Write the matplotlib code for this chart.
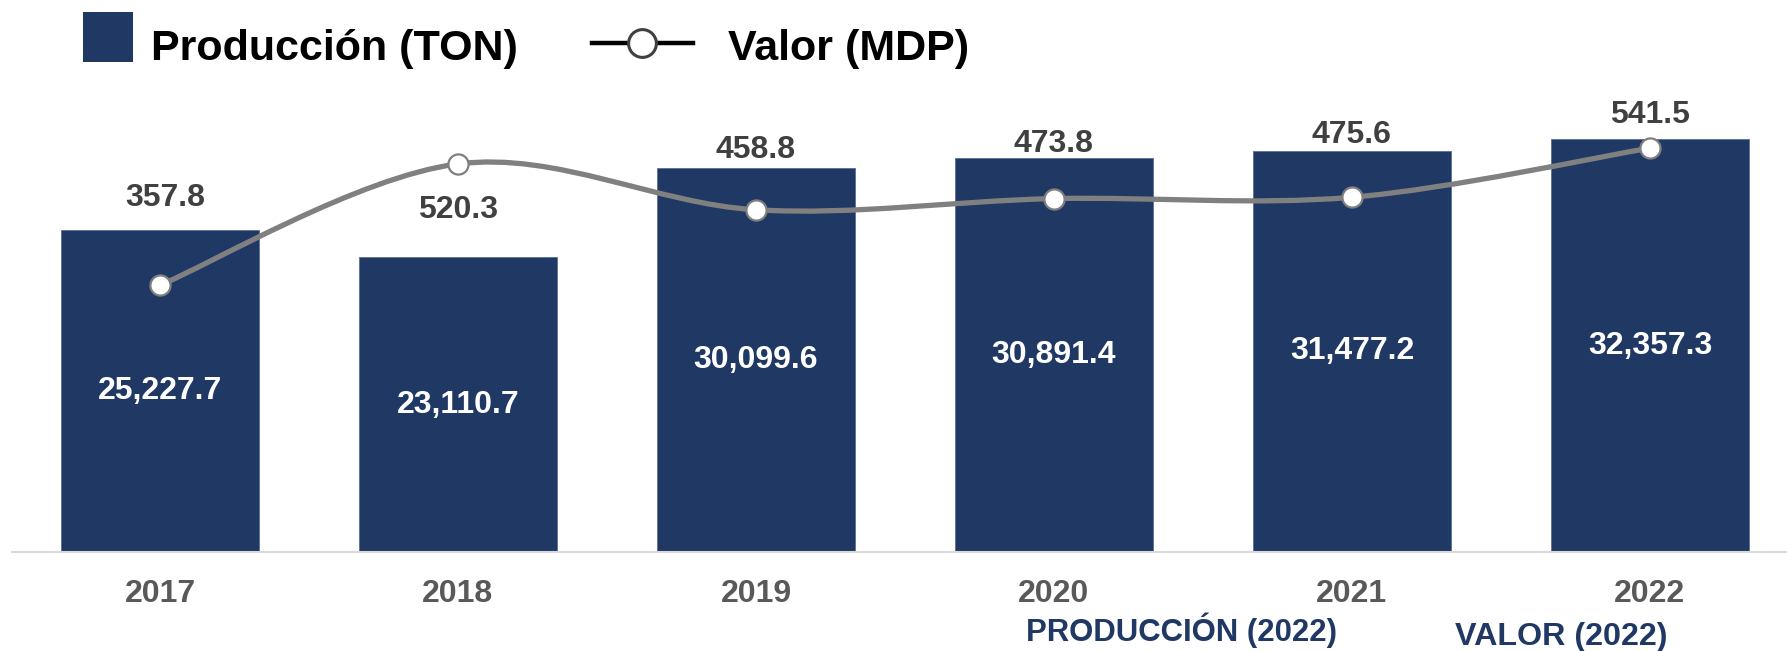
import numpy as np
import matplotlib
matplotlib.use("Agg")
import matplotlib.pyplot as plt
from matplotlib.path import Path
from matplotlib.patches import PathPatch, Rectangle
from matplotlib.lines import Line2D
from matplotlib.legend_handler import HandlerBase


YEARS = ["2017", "2018", "2019", "2020", "2021", "2022"]
PRODUCCION = [25227.7, 23110.7, 30099.6, 30891.4, 31477.2, 32357.3]
VALOR = [357.8, 520.3, 458.8, 473.8, 475.6, 541.5]

NAVY = "#203864"
LINE_GRAY = "#808080"
TEXT_GRAY = "#404040"
TICK_GRAY = "#595959"

W, H = 1787, 651

plt.rcParams["font.family"] = ["Liberation Sans", "DejaVu Sans"]
plt.rcParams["font.weight"] = "bold"


class SquareHandler(HandlerBase):
    def create_artists(self, legend, orig_handle, xdescent, ydescent,
                       width, height, fontsize, trans):
        side = 36
        r = Rectangle((width - side - xdescent, (height - side) / 2 - ydescent + 6),
                      side, side, facecolor=NAVY, edgecolor="none", transform=trans)
        return [r]


class LineHandler(HandlerBase):
    def create_artists(self, legend, orig_handle, xdescent, ydescent,
                       width, height, fontsize, trans):
        end = width - 12
        y = height / 2 - ydescent + 1.5
        ln = Line2D([-xdescent, end - xdescent], [y, y], color="black", lw=3.2,
                    transform=trans)
        mk = Line2D([end / 2 - xdescent], [y], linestyle="none", marker="o",
                    ms=20, mfc="white", mec="#404040", mew=2.2, transform=trans)
        return [ln, mk]


def smooth_path(xs, ys):
    pts = np.column_stack([xs, ys]).astype(float)
    n = len(pts)
    verts = [pts[0]]
    codes = [Path.MOVETO]
    for i in range(n - 1):
        p0 = pts[max(i - 1, 0)]
        p1 = pts[i]
        p2 = pts[i + 1]
        p3 = pts[min(i + 2, n - 1)]
        verts += [p1 + (p2 - p0) / 6, p2 - (p3 - p1) / 6, p2]
        codes += [Path.CURVE4] * 3
    return Path(verts, codes)


fig = plt.figure(figsize=(W / 100, H / 100), dpi=100)
ax = fig.add_axes([12 / W, 99 / H, (W - 12) / W, 452 / H])
x = np.arange(len(YEARS))

bars = ax.bar(x, PRODUCCION, width=0.667, color=NAVY, edgecolor="#5b6f94",
              linewidth=0.6, zorder=2)
ax.bar_label(bars, labels=[f"{v:,.1f}" for v in PRODUCCION], label_type="center",
             color="white", fontsize=23, fontweight="bold")

ax.set_xlim(-0.4966, 5.46)
ax.set_ylim(0, 35450)
ax.set_xticks(x, YEARS)
ax.set_yticks([])
ax.tick_params(axis="x", length=0, pad=19.5, labelsize=23, labelcolor=TICK_GRAY)
for side in ("top", "left", "right"):
    ax.spines[side].set_visible(False)
ax.spines["bottom"].set_color("#d9d9d9")
ax.spines["bottom"].set_linewidth(1.5)

ax2 = ax.twinx()
ax2.set_ylim(0, 606)
ax2.set_yticks([])
for side in ("top", "left", "right", "bottom"):
    ax2.spines[side].set_visible(False)

ax2.add_patch(PathPatch(smooth_path(x, VALOR), facecolor="none",
                        edgecolor=LINE_GRAY, lw=3.8, capstyle="round", zorder=2))
ax2.plot(x, VALOR, linestyle="none", marker="o", ms=14.5, mfc="white",
         mec="#7f7f7f", mew=1.6, zorder=3)

# label offsets above the bar tops, in points
label_dx = [3.6, 0, 0, 0, 0, 0]
label_dy = [23.5, 34.3, 13.4, 10.1, 11.5, 17.3]
for xi, v, top, dx, dy in zip(x, VALOR, PRODUCCION, label_dx, label_dy):
    ax2.annotate(f"{v:.1f}", xy=(xi, top), xycoords=ax.transData,
                 xytext=(dx, dy), textcoords="offset points",
                 ha="center", va="center", color=TEXT_GRAY,
                 fontsize=23, fontweight="bold")

h_bar = Rectangle((0, 0), 1, 1)
h_line = Line2D([], [])
fig.legend([h_bar, h_line], ["Producción (TON)", "Valor (MDP)"],
           loc="center left", bbox_to_anchor=(15 / W, 1 - 49 / H), ncol=2,
           frameon=False, prop={"size": 31, "weight": "bold"},
           handlelength=2.75, handletextpad=0.42, columnspacing=1.7,
           borderpad=0, borderaxespad=0,
           handler_map={h_bar: SquareHandler(), h_line: LineHandler()})

fig.text(1182 / W, 1 - 630 / H, "PRODUCCIÓN (2022)", ha="center", va="center",
         color=NAVY, fontsize=22.4, fontweight="bold")
fig.text(1561 / W, 1 - 637 / H, "VALOR (2022)", ha="center", va="center",
         color=NAVY, fontsize=23.2, fontweight="bold")

fig.savefig("out.png", dpi=100, facecolor="white")
